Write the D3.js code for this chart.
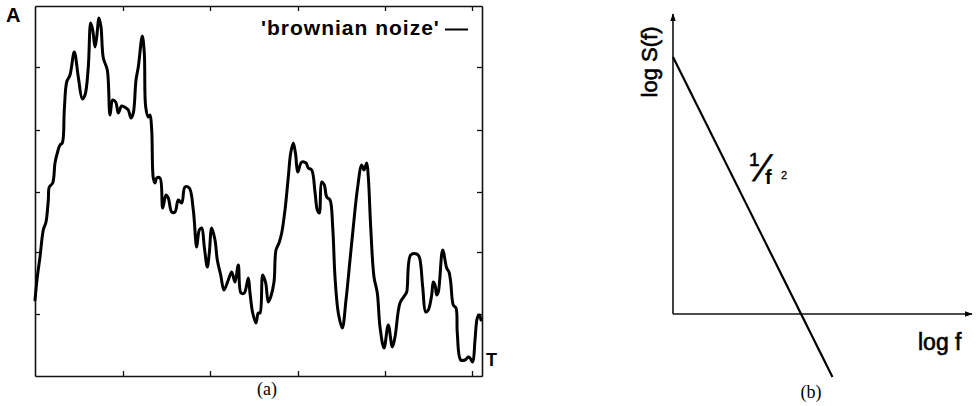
<!DOCTYPE html>
<html>
<head>
<meta charset="utf-8">
<script src="https://cdn.jsdelivr.net/npm/d3@7"></script>
<style>
  html, body { margin: 0; padding: 0; background: #fff; }
  svg { display: block; }
</style>
</head>
<body>
<svg id="chart" width="978" height="406"></svg>
<script>
// ---- Data: (a) brownian noise trace (time index, amplitude) ----
const timeIdx = [0, 2.3, 5, 8.3, 11, 13.3, 14.3, 17.7, 20, 22.3, 25, 27.3, 29.3, 31.7, 35, 39.3, 43.3, 47.3, 50, 53.3,
  55.7, 57.7, 60, 61.7, 64, 66, 68.3, 72.3, 75, 77.7, 80.7, 83.3, 86.7, 91, 93.3, 96, 98.3, 101, 103.3, 107.3,
  109.3, 110.7, 113.3, 115, 116.7, 118.3, 120, 121.7, 125, 127.7, 131, 133.3, 136.7, 140, 143.3, 146.7, 150, 154.3, 158.3, 161.7,
  164.3, 166.7, 169.3, 172.3, 174.3, 176.7, 180, 182.3, 185.7, 189, 193.3, 196.7, 200, 203.3, 206, 209.3, 213.3, 215, 217.7, 221,
  223.3, 225, 227.7, 230.7, 233.3, 235.7, 239, 241, 244, 246.7, 250, 253.3, 255.7, 258.3, 260.7, 262.7, 266.7, 271, 273.3, 276.7,
  280, 282.3, 284.3, 286.7, 289.3, 291.7, 295, 297.7, 300, 303.3, 307.3, 311, 315, 318.3, 322.3, 326.7, 329, 331.7, 333.3, 335.7,
  339, 342.3, 345, 349, 353.3, 357.3, 360, 365, 370, 371.7, 375.7, 381.7, 384.3, 387.7, 390.7, 393.3, 396.7, 398.3, 400, 401.7,
  403.3, 407.7, 411.7, 414, 415.7, 418.3, 421, 422.3, 425.7, 430, 433.3, 435, 437.7, 440, 442.3, 444.3, 446];
const amplitude = [76, 99, 119, 146, 154, 176, 189, 193, 213, 223, 231, 233, 266, 294, 301, 324, 299, 277, 281, 309,
  353, 346, 329, 339, 358, 349, 318, 306, 261, 276, 274, 263, 270, 268, 266, 258, 263, 296, 309, 340,
  323, 269, 259, 261, 246, 198, 193, 198, 198, 168, 181, 178, 164, 164, 176, 173, 189, 188, 166, 129,
  146, 148, 129, 109, 123, 148, 136, 116, 101, 86, 96, 104, 94, 111, 83, 83, 98, 83, 63, 53,
  63, 63, 101, 93, 74, 79, 94, 126, 133, 143, 166, 199, 223, 233, 221, 204, 214, 213, 208, 206,
  184, 166, 163, 194, 191, 179, 176, 149, 99, 63, 48, 76, 116, 149, 186, 211, 206, 213, 199, 149,
  99, 83, 49, 28, 51, 29, 39, 73, 81, 84, 121, 122, 119, 89, 64, 66, 81, 94, 91, 81,
  84, 126, 108, 104, 94, 71, 68, 43, 16, 16, 19, 18, 14, 36, 58, 61, 56];
const timeTicks = [88, 175, 263, 350, 437];
const ampTicks = [62, 124, 184, 246, 309];
const timeDomain = [0, 447];
const ampDomain = [0, 370];
const seriesName = "'brownian noize'";

// ---- Data: (b) spectrum, log S(f) vs log f ----
const logF = [0, 1.6];
const logS = [2.57, -0.63];
const logFDomain = [0, 3];
const logSDomain = [0, 3];

const svg = d3.select("#chart");

// ===== Panel (a) =====
const ax = { left: 35, right: 482, top: 6, bottom: 376 };
const x = d3.scaleLinear().domain(timeDomain).range([ax.left, ax.right]);
const y = d3.scaleLinear().domain(ampDomain).range([ax.bottom, ax.top]);

const gA = svg.append("g");
const styleAxis = g => {
  g.select(".domain").attr("stroke", "#111").attr("stroke-width", 1.6);
  g.selectAll(".tick line").attr("stroke", "#111").attr("stroke-width", 1.3);
  g.selectAll(".tick text").remove();
};
gA.append("g").attr("transform", `translate(0,${ax.bottom})`)
  .call(d3.axisBottom(x).tickValues(timeTicks).tickSize(-5).tickSizeOuter(0).tickFormat("")).call(styleAxis);
gA.append("g").attr("transform", `translate(0,${ax.top})`)
  .call(d3.axisTop(x).tickValues(timeTicks).tickSize(-5).tickSizeOuter(0).tickFormat("")).call(styleAxis);
gA.append("g").attr("transform", `translate(${ax.left},0)`)
  .call(d3.axisLeft(y).tickValues(ampTicks).tickSize(-5).tickSizeOuter(0).tickFormat("")).call(styleAxis);
gA.append("g").attr("transform", `translate(${ax.right},0)`)
  .call(d3.axisRight(y).tickValues(ampTicks).tickSize(-5).tickSizeOuter(0).tickFormat("")).call(styleAxis);

const pts = timeIdx.map((t, i) => [t, amplitude[i]]);
const line = d3.line().x(d => x(d[0])).y(d => y(d[1])).curve(d3.curveCatmullRom.alpha(0.5));
gA.append("path").datum(pts).attr("d", line)
  .attr("fill", "none").attr("stroke", "#000").attr("stroke-width", 3)
  .attr("stroke-linejoin", "round").attr("stroke-linecap", "round");

const sans = "'Liberation Sans', Arial, sans-serif";
const serif = "'Liberation Serif', 'Times New Roman', serif";

// legend
gA.append("text").attr("x", 261).attr("y", 35)
  .attr("font-family", sans).attr("font-weight", "bold")
  .attr("font-size", 21).attr("letter-spacing", 1).attr("fill", "#000").text(seriesName);
gA.append("line").attr("x1", 445).attr("x2", 468).attr("y1", 29.5).attr("y2", 29.5)
  .attr("stroke", "#000").attr("stroke-width", 2);

// axis letters
gA.append("text").attr("x", 6).attr("y", 22)
  .attr("font-family", sans).attr("font-weight", "bold")
  .attr("font-size", 20).text("A");
gA.append("text").attr("x", 486).attr("y", 366)
  .attr("font-family", sans).attr("font-weight", "bold")
  .attr("font-size", 18).text("T");
gA.append("text").attr("x", 267).attr("y", 395).attr("text-anchor", "middle")
  .attr("font-family", serif).attr("font-size", 18).text("(a)");

// ===== Panel (b) =====
const fx = d3.scaleLinear().domain(logFDomain).range([673, 972]);
const fy = d3.scaleLinear().domain(logSDomain).range([314, 14]);
const gB = svg.append("g");
const defs = svg.append("defs");
defs.append("marker").attr("id", "arrow").attr("viewBox", "0 0 10 10")
  .attr("refX", 9).attr("refY", 5).attr("markerWidth", 8).attr("markerHeight", 8)
  .attr("markerUnits", "userSpaceOnUse").attr("orient", "auto")
  .append("path").attr("d", "M0,1.5 L10,5 L0,8.5 Z").attr("fill", "#000");

gB.append("line").attr("x1", fx(0)).attr("y1", fy(0)).attr("x2", fx(0)).attr("y2", fy(logSDomain[1]))
  .attr("stroke", "#111").attr("stroke-width", 1.6).attr("marker-end", "url(#arrow)");
gB.append("line").attr("x1", fx(0)).attr("y1", fy(0)).attr("x2", fx(logFDomain[1])).attr("y2", fy(0))
  .attr("stroke", "#111").attr("stroke-width", 1.6).attr("marker-end", "url(#arrow)");

const specPts = logF.map((f, i) => [f, logS[i]]);
gB.append("path").datum(specPts)
  .attr("d", d3.line().x(d => fx(d[0])).y(d => fy(d[1])))
  .attr("fill", "none").attr("stroke", "#000").attr("stroke-width", 2.2);

const heavy = sel => sel.attr("stroke", "#000").attr("stroke-width", 0.6).attr("fill", "#000");
gB.append("text").attr("transform", "translate(657,62) rotate(-90)").attr("text-anchor", "middle")
  .attr("font-family", sans).attr("font-size", 22).call(heavy).text("log S(f)");
gB.append("text").attr("x", 918).attr("y", 350)
  .attr("font-family", sans).attr("font-size", 23).call(heavy).text("log f");

// 1/f^2 label
gB.append("text").attr("x", 749).attr("y", 166).attr("font-family", sans).attr("font-size", 19)
  .call(heavy).text("1");
gB.append("text").attr("transform", "translate(752,181) skewX(-22)")
  .attr("font-family", sans).attr("font-size", 37).call(heavy).attr("stroke-width", 0.4).text("/");
gB.append("text").attr("x", 765).attr("y", 184).attr("font-family", sans).attr("font-weight", "bold")
  .attr("font-size", 20).text("f");
gB.append("text").attr("x", 781).attr("y", 179).attr("font-family", sans)
  .attr("font-size", 11).call(heavy).attr("stroke-width", 0.3).text("2");

gB.append("text").attr("x", 811).attr("y", 398).attr("text-anchor", "middle")
  .attr("font-family", serif).attr("font-size", 18).text("(b)");
</script>
</body>
</html>
